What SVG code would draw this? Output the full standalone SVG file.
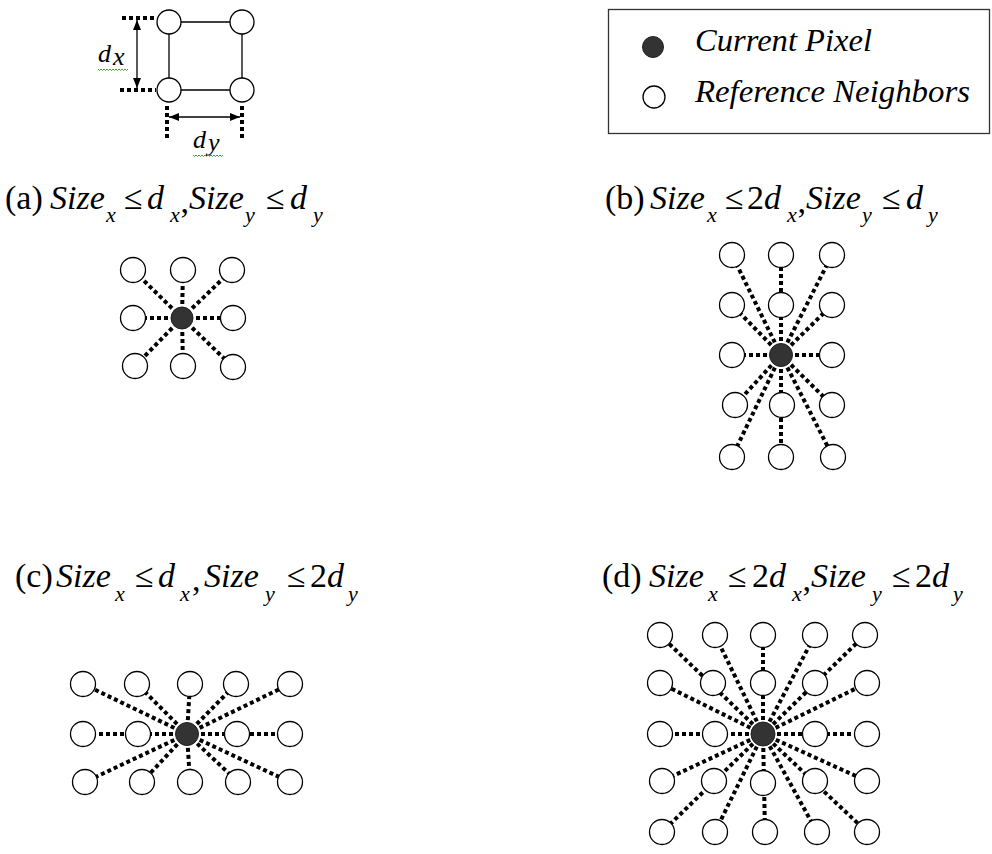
<svg xmlns="http://www.w3.org/2000/svg" width="992" height="854" viewBox="0 0 992 854">
<defs>
<style>
.n{fill:#fff;stroke:#000;stroke-width:1.3}
.c{fill:#333;stroke:#222;stroke-width:1}
.dot{stroke:#000;stroke-width:4;stroke-dasharray:4 3;fill:none}
.sol{stroke:#000;stroke-width:1.3;fill:none}
.lab{font-family:"Liberation Serif","Times New Roman",serif;fill:#000}
.lab text{font-size:34px}
.lab text.i{font-style:italic}
.lab text.sub{font-size:22px;font-style:italic}
.lab text.key{font-size:26px;font-style:italic}
.leg{font-family:"Liberation Serif","Times New Roman",serif;font-style:italic;font-size:32px;fill:#000}
.sq{stroke:#4a9a3a;stroke-width:1;fill:none}
</style>
<marker id="ah" viewBox="0 0 10 8" refX="10" refY="4" markerWidth="10" markerHeight="8" markerUnits="userSpaceOnUse" orient="auto-start-reverse">
<path d="M0,0 L10,4 L0,8 z" fill="#000"/>
</marker>
</defs>
<rect width="992" height="854" fill="#fff"/>

<g id="key">
<line class="sol" x1="169" y1="22" x2="242" y2="22"/>
<line class="sol" x1="169" y1="90" x2="242" y2="90"/>
<line class="sol" x1="169" y1="22" x2="169" y2="90"/>
<line class="sol" x1="242" y1="22" x2="242" y2="90"/>
<line class="dot" x1="122" y1="18" x2="156" y2="18"/>
<line class="dot" x1="120" y1="90" x2="156" y2="90"/>
<line class="dot" x1="167" y1="106" x2="167" y2="138"/>
<line class="dot" x1="242" y1="106" x2="242" y2="138"/>
<line class="sol" x1="137" y1="20" x2="137" y2="88" marker-start="url(#ah)" marker-end="url(#ah)"/>
<line class="sol" x1="169" y1="117" x2="240" y2="117" marker-start="url(#ah)" marker-end="url(#ah)"/>
<g id="key-n1"><circle class="n" cx="169" cy="22" r="12"/></g>
<g id="key-n2"><circle class="n" cx="242" cy="22" r="12"/></g>
<g id="key-n3"><circle class="n" cx="169" cy="90" r="12"/></g>
<g id="key-n4"><circle class="n" cx="242" cy="90" r="12"/></g>
<g class="lab">
<text class="key" x="98" y="62">d</text>
<text class="key" x="113" y="65">x</text>
<text class="key" x="193" y="148">d</text>
<text class="key" x="208" y="151">y</text>
</g>
<path class="sq" d="M98,69 l1.5,1.5 l1.5,-1.5 l1.5,1.5 l1.5,-1.5 l1.5,1.5 l1.5,-1.5 l1.5,1.5 l1.5,-1.5 l1.5,1.5 l1.5,-1.5 l1.5,1.5 l1.5,-1.5 l1.5,1.5 l1.5,-1.5 l1.5,1.5 l1.5,-1.5 l1.5,1.5 l1.5,-1.5 l1.5,1.5 l1.5,-1.5"/>
<path class="sq" d="M193,155 l1.5,1.5 l1.5,-1.5 l1.5,1.5 l1.5,-1.5 l1.5,1.5 l1.5,-1.5 l1.5,1.5 l1.5,-1.5 l1.5,1.5 l1.5,-1.5 l1.5,1.5 l1.5,-1.5 l1.5,1.5 l1.5,-1.5 l1.5,1.5 l1.5,-1.5 l1.5,1.5 l1.5,-1.5 l1.5,1.5 l1.5,-1.5"/>
</g>

<g id="legend">
<rect x="608.5" y="9.5" width="381" height="124" fill="none" stroke="#333" stroke-width="1.3"/>
<g id="leg-current"><circle class="c" cx="653" cy="47" r="10.5"/></g>
<g id="leg-ref"><circle class="n" cx="654" cy="97" r="11"/></g>
<text class="leg" x="695" y="51" textLength="177" lengthAdjust="spacingAndGlyphs">Current Pixel</text>
<text class="leg" x="695" y="102" textLength="275" lengthAdjust="spacingAndGlyphs">Reference Neighbors</text>
</g>

<g id="label-a" class="lab">
<text x="5" y="209">(a)</text>
<text class="i" x="50" y="209">Size</text>
<text class="sub" x="106" y="222">x</text>
<text x="124" y="209">≤</text>
<text class="i" x="147" y="209">d</text>
<text class="sub" x="170" y="222">x</text>
<text x="180.5" y="213">,</text>
<text class="i" x="189" y="209">Size</text>
<text class="sub" x="245" y="222">y</text>
<text x="266" y="209">≤</text>
<text class="i" x="290" y="209">d</text>
<text class="sub" x="313" y="222">y</text>
</g>
<g id="label-b" class="lab">
<text x="605" y="209">(b)</text>
<text class="i" x="650" y="209">Size</text>
<text class="sub" x="707" y="222">x</text>
<text x="725" y="209">≤</text>
<text x="747" y="209">2</text>
<text class="i" x="764" y="209">d</text>
<text class="sub" x="787" y="222">x</text>
<text x="797.5" y="213">,</text>
<text class="i" x="806" y="209">Size</text>
<text class="sub" x="862" y="222">y</text>
<text x="882" y="209">≤</text>
<text class="i" x="906" y="209">d</text>
<text class="sub" x="928" y="222">y</text>
</g>
<g id="label-c" class="lab">
<text x="15" y="587">(c)</text>
<text class="i" x="56" y="587">Size</text>
<text class="sub" x="115" y="601">x</text>
<text x="135" y="587">≤</text>
<text class="i" x="158" y="587">d</text>
<text class="sub" x="180" y="601">x</text>
<text x="192" y="591">,</text>
<text class="i" x="204" y="587">Size</text>
<text class="sub" x="265" y="601">y</text>
<text x="287" y="587">≤</text>
<text x="310" y="587">2</text>
<text class="i" x="327" y="587">d</text>
<text class="sub" x="348" y="601">y</text>
</g>
<g id="label-d" class="lab">
<text x="602" y="587">(d)</text>
<text class="i" x="649" y="587">Size</text>
<text class="sub" x="708" y="601">x</text>
<text x="728" y="587">≤</text>
<text x="752" y="587">2</text>
<text class="i" x="769" y="587">d</text>
<text class="sub" x="792" y="601">x</text>
<text x="802.5" y="591">,</text>
<text class="i" x="811" y="587">Size</text>
<text class="sub" x="872" y="601">y</text>
<text x="892" y="587">≤</text>
<text x="915" y="587">2</text>
<text class="i" x="932" y="587">d</text>
<text class="sub" x="953" y="601">y</text>
</g>

<g id="connectors">
<line class="dot" x2="133" y2="270" x1="182" y1="318"/>
<line class="dot" x2="183" y2="270" x1="182" y1="318"/>
<line class="dot" x2="232" y2="270" x1="182" y1="318"/>
<line class="dot" x2="133" y2="318" x1="182" y1="318"/>
<line class="dot" x2="233" y2="318" x1="182" y1="318"/>
<line class="dot" x2="135" y2="366" x1="182" y1="318"/>
<line class="dot" x2="183" y2="366" x1="182" y1="318"/>
<line class="dot" x2="233" y2="367" x1="182" y1="318"/>
<line class="dot" x2="732" y2="255" x1="781" y1="355"/>
<line class="dot" x2="781" y2="255" x1="781" y1="355"/>
<line class="dot" x2="832" y2="255" x1="781" y1="355"/>
<line class="dot" x2="732" y2="305" x1="781" y1="355"/>
<line class="dot" x2="832" y2="305" x1="781" y1="355"/>
<line class="dot" x2="732" y2="355" x1="781" y1="355"/>
<line class="dot" x2="832" y2="355" x1="781" y1="355"/>
<line class="dot" x2="735" y2="405" x1="781" y1="355"/>
<line class="dot" x2="832" y2="405" x1="781" y1="355"/>
<line class="dot" x2="732" y2="457" x1="781" y1="355"/>
<line class="dot" x2="781" y2="457" x1="781" y1="355"/>
<line class="dot" x2="833" y2="457" x1="781" y1="355"/>
<line class="dot" x2="83" y2="684" x1="187" y1="734"/>
<line class="dot" x2="137" y2="684" x1="187" y1="734"/>
<line class="dot" x2="190" y2="684" x1="187" y1="734"/>
<line class="dot" x2="236" y2="684" x1="187" y1="734"/>
<line class="dot" x2="290" y2="684" x1="187" y1="734"/>
<line class="dot" x2="83" y2="734" x1="187" y1="734"/>
<line class="dot" x2="290" y2="734" x1="187" y1="734"/>
<line class="dot" x2="85" y2="782" x1="187" y1="734"/>
<line class="dot" x2="142" y2="782" x1="187" y1="734"/>
<line class="dot" x2="190" y2="782" x1="187" y1="734"/>
<line class="dot" x2="238" y2="782" x1="187" y1="734"/>
<line class="dot" x2="290" y2="782" x1="187" y1="734"/>
<line class="dot" x2="660" y2="635" x1="763" y1="734"/>
<line class="dot" x2="715" y2="635" x1="763" y1="734"/>
<line class="dot" x2="763" y2="635" x1="763" y1="734"/>
<line class="dot" x2="815" y2="635" x1="763" y1="734"/>
<line class="dot" x2="865" y2="635" x1="763" y1="734"/>
<line class="dot" x2="660" y2="683" x1="763" y1="734"/>
<line class="dot" x2="867" y2="683" x1="763" y1="734"/>
<line class="dot" x2="660" y2="734" x1="763" y1="734"/>
<line class="dot" x2="867" y2="734" x1="763" y1="734"/>
<line class="dot" x2="662" y2="781" x1="763" y1="734"/>
<line class="dot" x2="867" y2="781" x1="763" y1="734"/>
<line class="dot" x2="662" y2="832" x1="763" y1="734"/>
<line class="dot" x2="715" y2="832" x1="763" y1="734"/>
<line class="dot" x2="765" y2="832" x1="763" y1="734"/>
<line class="dot" x2="817" y2="832" x1="763" y1="734"/>
<line class="dot" x2="867" y2="832" x1="763" y1="734"/>
</g>

<g id="panel-a">
<g id="a-n1"><circle class="n" cx="133" cy="270" r="12.5"/></g>
<g id="a-n2"><circle class="n" cx="183" cy="270" r="12.5"/></g>
<g id="a-n3"><circle class="n" cx="232" cy="270" r="12.5"/></g>
<g id="a-n4"><circle class="n" cx="133" cy="318" r="12.5"/></g>
<g id="a-n5"><circle class="n" cx="233" cy="318" r="12.5"/></g>
<g id="a-n6"><circle class="n" cx="135" cy="366" r="12.5"/></g>
<g id="a-n7"><circle class="n" cx="183" cy="366" r="12.5"/></g>
<g id="a-n8"><circle class="n" cx="233" cy="367" r="12.5"/></g>
<g id="a-center"><circle class="c" cx="182" cy="318" r="11"/></g>
</g>

<g id="panel-b">
<g id="b-n1"><circle class="n" cx="732" cy="255" r="12.5"/></g>
<g id="b-n2"><circle class="n" cx="781" cy="255" r="12.5"/></g>
<g id="b-n3"><circle class="n" cx="832" cy="255" r="12.5"/></g>
<g id="b-n4"><circle class="n" cx="732" cy="305" r="12.5"/></g>
<g id="b-n5"><circle class="n" cx="781" cy="305" r="12.5"/></g>
<g id="b-n6"><circle class="n" cx="832" cy="305" r="12.5"/></g>
<g id="b-n7"><circle class="n" cx="732" cy="355" r="12.5"/></g>
<g id="b-n8"><circle class="n" cx="832" cy="355" r="12.5"/></g>
<g id="b-n9"><circle class="n" cx="735" cy="405" r="12.5"/></g>
<g id="b-n10"><circle class="n" cx="782" cy="405" r="12.5"/></g>
<g id="b-n11"><circle class="n" cx="832" cy="405" r="12.5"/></g>
<g id="b-n12"><circle class="n" cx="732" cy="457" r="12.5"/></g>
<g id="b-n13"><circle class="n" cx="781" cy="457" r="12.5"/></g>
<g id="b-n14"><circle class="n" cx="833" cy="457" r="12.5"/></g>
<g id="b-center"><circle class="c" cx="781" cy="355" r="11.5"/></g>
</g>

<g id="panel-c">
<g id="c-n1"><circle class="n" cx="83" cy="684" r="12.5"/></g>
<g id="c-n2"><circle class="n" cx="137" cy="684" r="12.5"/></g>
<g id="c-n3"><circle class="n" cx="190" cy="684" r="12.5"/></g>
<g id="c-n4"><circle class="n" cx="236" cy="684" r="12.5"/></g>
<g id="c-n5"><circle class="n" cx="290" cy="684" r="12.5"/></g>
<g id="c-n6"><circle class="n" cx="83" cy="734" r="12.5"/></g>
<g id="c-n7"><circle class="n" cx="138" cy="734" r="12.5"/></g>
<g id="c-n8"><circle class="n" cx="237" cy="734" r="12.5"/></g>
<g id="c-n9"><circle class="n" cx="290" cy="734" r="12.5"/></g>
<g id="c-n10"><circle class="n" cx="85" cy="782" r="12.5"/></g>
<g id="c-n11"><circle class="n" cx="142" cy="782" r="12.5"/></g>
<g id="c-n12"><circle class="n" cx="190" cy="782" r="12.5"/></g>
<g id="c-n13"><circle class="n" cx="238" cy="782" r="12.5"/></g>
<g id="c-n14"><circle class="n" cx="290" cy="782" r="12.5"/></g>
<g id="c-center"><circle class="c" cx="187" cy="734" r="11.5"/></g>
</g>

<g id="panel-d">
<g id="d-n1"><circle class="n" cx="660" cy="635" r="12.5"/></g>
<g id="d-n2"><circle class="n" cx="715" cy="635" r="12.5"/></g>
<g id="d-n3"><circle class="n" cx="763" cy="635" r="12.5"/></g>
<g id="d-n4"><circle class="n" cx="815" cy="635" r="12.5"/></g>
<g id="d-n5"><circle class="n" cx="865" cy="635" r="12.5"/></g>
<g id="d-n6"><circle class="n" cx="660" cy="683" r="12.5"/></g>
<g id="d-n7"><circle class="n" cx="713" cy="683" r="12.5"/></g>
<g id="d-n8"><circle class="n" cx="763" cy="683" r="12.5"/></g>
<g id="d-n9"><circle class="n" cx="815" cy="683" r="12.5"/></g>
<g id="d-n10"><circle class="n" cx="867" cy="683" r="12.5"/></g>
<g id="d-n11"><circle class="n" cx="660" cy="734" r="12.5"/></g>
<g id="d-n12"><circle class="n" cx="715" cy="734" r="12.5"/></g>
<g id="d-n13"><circle class="n" cx="815" cy="734" r="12.5"/></g>
<g id="d-n14"><circle class="n" cx="867" cy="734" r="12.5"/></g>
<g id="d-n15"><circle class="n" cx="662" cy="781" r="12.5"/></g>
<g id="d-n16"><circle class="n" cx="714" cy="781" r="12.5"/></g>
<g id="d-n17"><circle class="n" cx="763" cy="783" r="12.5"/></g>
<g id="d-n18"><circle class="n" cx="815" cy="781" r="12.5"/></g>
<g id="d-n19"><circle class="n" cx="867" cy="781" r="12.5"/></g>
<g id="d-n20"><circle class="n" cx="662" cy="832" r="12.5"/></g>
<g id="d-n21"><circle class="n" cx="715" cy="832" r="12.5"/></g>
<g id="d-n22"><circle class="n" cx="765" cy="832" r="12.5"/></g>
<g id="d-n23"><circle class="n" cx="817" cy="832" r="12.5"/></g>
<g id="d-n24"><circle class="n" cx="867" cy="832" r="12.5"/></g>
<g id="d-center"><circle class="c" cx="763" cy="734" r="12"/></g>
</g>
</svg>
